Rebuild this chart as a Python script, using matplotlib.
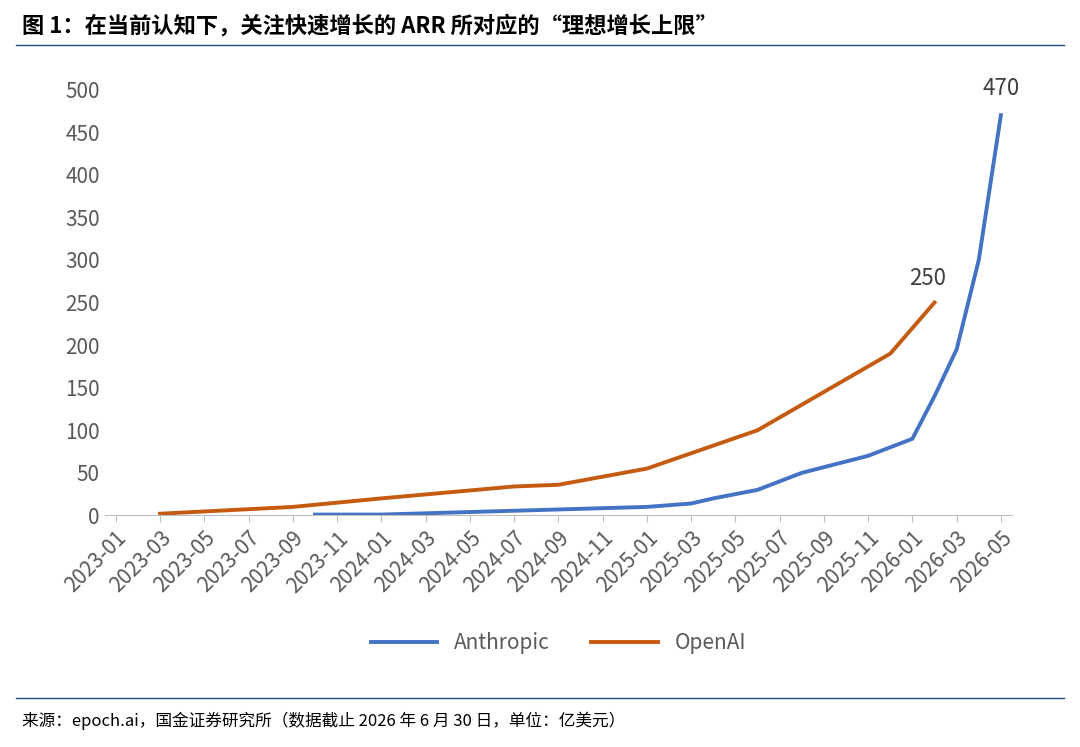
import matplotlib.pyplot as plt
import numpy as np

plt.rcParams['font.family'] = ['Noto Sans CJK SC', 'DejaVu Sans']

# months since 2023-01
tick_labels = ['%d-%02d' % (2023 + (m // 12), m % 12 + 1) for m in range(0, 41, 2)]

openai_m = [2, 8, 12, 18, 20, 24, 29, 35, 37]
openai_v = [2, 10, 20, 34, 36, 55, 100, 190, 250]

anth_m = [9, 12, 24, 26, 27, 29, 31, 34, 36, 37, 38, 39, 40]
anth_v = [1, 1, 10, 14, 20, 30, 50, 70, 90, 140, 195, 300, 470]

blue = '#4472C4'
orange = '#C55A11'

fig = plt.figure(figsize=(10.8, 7.47), dpi=100)
ax = fig.add_axes([0.097, 0.31, 0.84, 0.57])
ax.plot(anth_m, anth_v, color=blue, lw=2.8, label='Anthropic')
ax.plot(openai_m, openai_v, color=orange, lw=2.8, label='OpenAI')
ax.text(anth_m[-1], anth_v[-1] + 18, str(anth_v[-1]), ha='center', va='bottom', fontsize=16, color='#404040')
ax.text(openai_m[-1] - 0.3, openai_v[-1] + 15, str(openai_v[-1]), ha='center', va='bottom', fontsize=16, color='#404040')

ax.set_xlim(-0.5, 40.5)
ax.set_ylim(0, 500)
ax.set_yticks(range(0, 501, 50))
ax.set_xticks(range(0, 41, 2))
ax.set_xticklabels(tick_labels, rotation=45, ha='right', rotation_mode='anchor')
ax.tick_params(axis='x', labelsize=15, colors='#595959', length=5, color='#bfbfbf')
ax.tick_params(axis='y', labelsize=15, colors='#595959', length=0)
for s in ['top', 'right', 'left']:
    ax.spines[s].set_visible(False)
ax.spines['bottom'].set_color('#bfbfbf')
ax.legend(loc='upper center', bbox_to_anchor=(0.5, -0.23), ncol=2, frameon=False,
          fontsize=15, labelcolor='#595959', handlelength=3.2, columnspacing=2)

fig.text(0.02, 0.965, '图 1：在当前认知下，关注快速增长的 ARR 所对应的“理想增长上限”',
         fontsize=16, fontweight='bold', style='italic', va='center')
fig.add_artist(plt.Line2D([0.015, 0.985], [0.94, 0.94], color='#1f4e79', lw=1))
fig.add_artist(plt.Line2D([0.015, 0.985], [0.065, 0.065], color='#1f4e79', lw=1))
fig.text(0.02, 0.035, '来源：epoch.ai，国金证券研究所（数据截止 2026 年 6 月 30 日，单位：亿美元）',
         fontsize=12, va='center')

fig.savefig('out.png')
